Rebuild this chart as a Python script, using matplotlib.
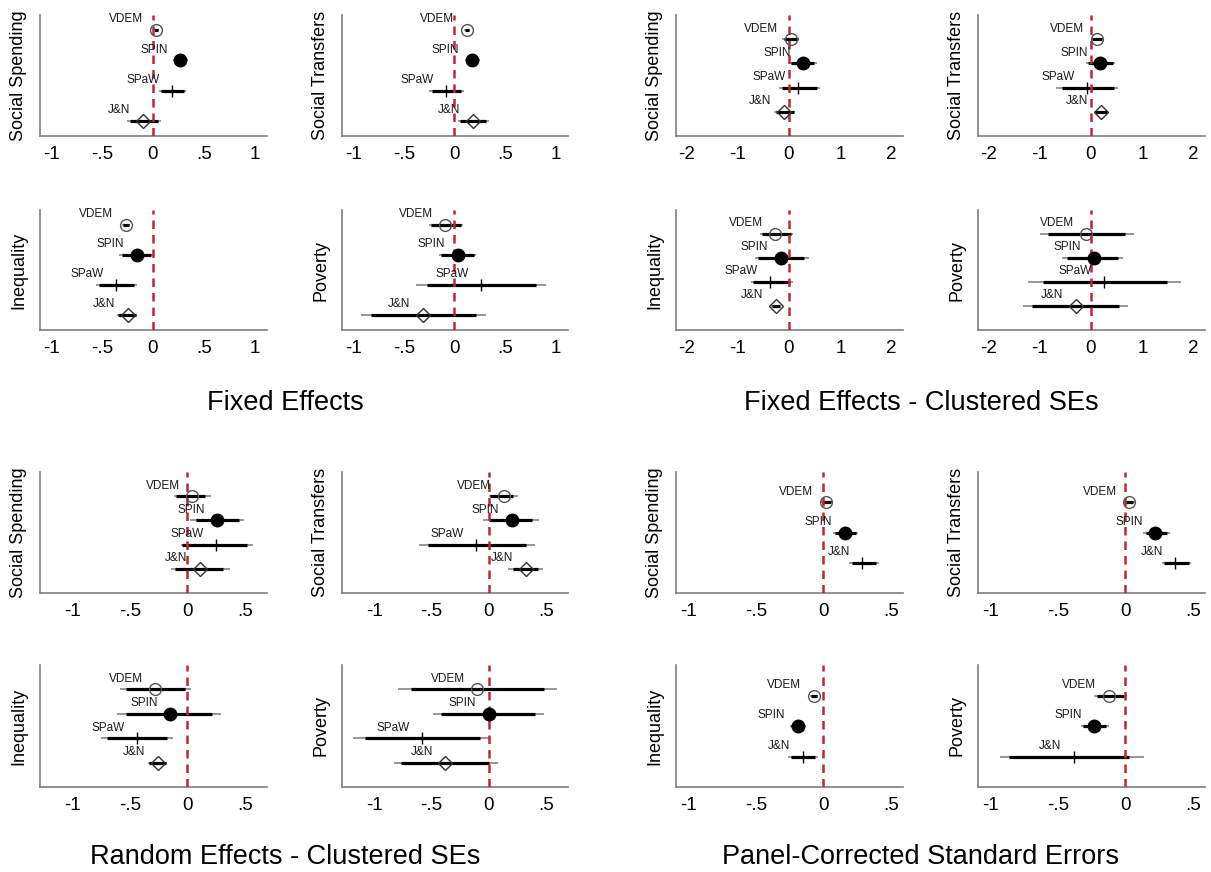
import matplotlib
matplotlib.use("Agg")
import matplotlib.pyplot as plt

plt.rcParams['font.family'] = ['Liberation Sans', 'DejaVu Sans']

W, H, DPI = 1211, 872, 100

outcomes = ["Social Spending", "Social Transfers", "Inequality", "Poverty"]
sources = ["VDEM", "SPIN", "SPaW", "J&N"]
pcse_sources = ["VDEM", "SPIN", "J&N"]

# Fixed effects (rows: outcomes, columns: sources)
fe_coef = [[0.03, 0.27, 0.19, -0.10],
           [0.12, 0.17, -0.08, 0.18],
           [-0.27, -0.16, -0.36, -0.25],
           [-0.09, 0.03, 0.26, -0.31]]
fe_lo95 = [[0.00, 0.20, 0.06, -0.26],
           [0.09, 0.10, -0.25, 0.03],
           [-0.30, -0.33, -0.56, -0.35],
           [-0.25, -0.15, -0.38, -0.92]]
fe_hi95 = [[0.06, 0.34, 0.32, 0.08],
           [0.15, 0.25, 0.09, 0.34],
           [-0.23, 0.01, -0.16, -0.16],
           [0.08, 0.21, 0.90, 0.31]]
fe_lo90 = [[0.01, 0.22, 0.08, -0.23],
           [0.10, 0.11, -0.22, 0.05],
           [-0.29, -0.30, -0.53, -0.34],
           [-0.23, -0.13, -0.27, -0.82]]
fe_hi90 = [[0.05, 0.32, 0.30, 0.05],
           [0.14, 0.23, 0.06, 0.31],
           [-0.24, -0.02, -0.19, -0.17],
           [0.06, 0.19, 0.80, 0.21]]

# Fixed effects with clustered standard errors
fec_coef = [[0.03, 0.28, 0.18, -0.10],
            [0.11, 0.18, -0.08, 0.19],
            [-0.27, -0.16, -0.36, -0.25],
            [-0.09, 0.05, 0.26, -0.30]]
fec_lo95 = [[-0.13, 0.00, -0.19, -0.30],
            [0.00, -0.10, -0.68, 0.06],
            [-0.57, -0.66, -0.74, -0.35],
            [-1.00, -0.56, -1.22, -1.32]]
fec_hi95 = [[0.20, 0.54, 0.60, 0.12],
            [0.25, 0.47, 0.53, 0.34],
            [0.07, 0.39, 0.07, -0.17],
            [0.83, 0.63, 1.76, 0.73]]
fec_lo90 = [[-0.10, 0.03, -0.13, -0.26],
            [0.02, -0.05, -0.57, 0.08],
            [-0.53, -0.60, -0.70, -0.33],
            [-0.83, -0.46, -0.93, -1.14]]
fec_hi90 = [[0.17, 0.48, 0.54, 0.09],
            [0.22, 0.42, 0.44, 0.31],
            [0.04, 0.29, 0.00, -0.18],
            [0.66, 0.52, 1.48, 0.55]]

# Random effects with clustered standard errors
rec_coef = [[0.04, 0.26, 0.25, 0.11],
            [0.13, 0.20, -0.11, 0.32],
            [-0.28, -0.15, -0.44, -0.26],
            [-0.10, 0.00, -0.58, -0.38]]
rec_lo95 = [[-0.12, 0.02, -0.06, -0.14],
            [0.00, -0.05, -0.61, 0.17],
            [-0.59, -0.61, -0.75, -0.34],
            [-0.79, -0.49, -1.18, -0.83]]
rec_hi95 = [[0.20, 0.49, 0.57, 0.37],
            [0.25, 0.44, 0.40, 0.47],
            [0.03, 0.29, -0.13, -0.18],
            [0.59, 0.48, 0.00, 0.08]]
rec_lo90 = [[-0.10, 0.07, -0.05, -0.11],
            [0.01, 0.00, -0.53, 0.21],
            [-0.53, -0.53, -0.70, -0.33],
            [-0.68, -0.42, -1.08, -0.77]]
rec_hi90 = [[0.15, 0.45, 0.52, 0.31],
            [0.21, 0.38, 0.32, 0.43],
            [-0.02, 0.21, -0.18, -0.19],
            [0.48, 0.40, -0.08, 0.00]]

# Panel-corrected standard errors (no SPaW)
pcse_coef = [[0.02, 0.16, 0.29],
             [0.03, 0.22, 0.37],
             [-0.07, -0.19, -0.15],
             [-0.12, -0.23, -0.38]]
pcse_lo95 = [[-0.02, 0.07, 0.19],
             [-0.01, 0.13, 0.27],
             [-0.10, -0.25, -0.26],
             [-0.23, -0.33, -0.93]]
pcse_hi95 = [[0.07, 0.26, 0.41],
             [0.07, 0.33, 0.49],
             [-0.04, -0.13, -0.04],
             [0.01, -0.12, 0.14]]
pcse_lo90 = [[-0.01, 0.09, 0.21],
             [0.00, 0.15, 0.29],
             [-0.09, -0.24, -0.24],
             [-0.21, -0.31, -0.86]]
pcse_hi90 = [[0.06, 0.24, 0.39],
             [0.06, 0.31, 0.47],
             [-0.05, -0.14, -0.06],
             [-0.01, -0.14, 0.03]]

ticks_wide = [-1, -0.5, 0, 0.5, 1]
ticklabels_wide = ["-1", "-.5", "0", ".5", "1"]
ticks_two = [-2, -1, 0, 1, 2]
ticklabels_two = ["-2", "-1", "0", "1", "2"]
ticks_short = [-1, -0.5, 0, 0.5]
ticklabels_short = ["-1", "-.5", "0", ".5"]

# marker style for each row position
STYLES = [
    dict(marker='o', ms=8.5, mfc='none', mec='#555555', mew=1.0),
    dict(marker='o', ms=9, mfc='black', mec='black', mew=1.0),
    dict(marker='|', ms=8.5, mfc='black', mec='black', mew=1.0),
    dict(marker='D', ms=7.5, mfc='none', mec='#333333', mew=1.0),
]

fig = plt.figure(figsize=(W / DPI, H / DPI), dpi=DPI)


def px_axes(left, top, right, bottom):
    return fig.add_axes([left / W, 1 - bottom / H, (right - left) / W, (bottom - top) / H])


def coef_panel(ax, coef, lo95, hi95, lo90, hi90, labels, xlim, ylim,
               ticks, ticklabels, ylabel):
    for i, lab in enumerate(labels):
        y = i + 1
        ax.plot([lo95[i], hi95[i]], [y, y], color='#7a7a7a', lw=1.1,
                solid_capstyle='butt', zorder=2)
        ax.plot([lo90[i], hi90[i]], [y, y], color='black', lw=2.3,
                solid_capstyle='butt', zorder=3)
        ax.plot([coef[i]], [y], ls='none', zorder=5, **STYLES[i])
        ax.annotate(lab, (coef[i], y), xytext=(-9, 5.5), textcoords='offset points',
                    ha='right', va='baseline', fontsize=8.5, color='#1a1a1a', zorder=6)
    vl = ax.axvline(0, color='#c1272d', lw=1.8, zorder=4)
    vl.set_dashes((3.4, 2.4))
    ax.set_xlim(*xlim)
    ax.set_ylim(ylim[1], ylim[0])
    ax.set_yticks([])
    ax.set_xticks(ticks)
    ax.set_xticklabels(ticklabels)
    ax.tick_params(axis='x', length=0, pad=7, labelsize=13.5)
    for s in ('top', 'right'):
        ax.spines[s].set_visible(False)
    for s in ('left', 'bottom'):
        ax.spines[s].set_color('#7f7f7f')
        ax.spines[s].set_linewidth(1.2)
    ax.set_ylabel(ylabel, fontsize=13, va='center')
    ax.yaxis.set_label_coords(-0.093, 0.5)


cols_left = [(40, 267), (342, 568)]
cols_right = [(676, 903), (978, 1205)]
rows_top = [(15, 136), (210, 330)]
rows_bottom = [(472, 593), (665, 787)]

groups = [
    (cols_left, rows_top, (fe_coef, fe_lo95, fe_hi95, fe_lo90, fe_hi90), sources,
     (-1.11, 1.12), (0.5, 4.5), ticks_wide, ticklabels_wide),
    (cols_right, rows_top, (fec_coef, fec_lo95, fec_hi95, fec_lo90, fec_hi90), sources,
     (-2.2, 2.22), (0, 5), ticks_two, ticklabels_two),
    (cols_left, rows_bottom, (rec_coef, rec_lo95, rec_hi95, rec_lo90, rec_hi90), sources,
     (-1.28, 0.69), (0, 5), ticks_short, ticklabels_short),
    (cols_right, rows_bottom, (pcse_coef, pcse_lo95, pcse_hi95, pcse_lo90, pcse_hi90),
     pcse_sources, (-1.09, 0.59), (0, 4), ticks_short, ticklabels_short),
]

for cols, rows, stats, labs, xlim, ylim, tks, tkl in groups:
    for k, outcome in enumerate(outcomes):
        r, c = divmod(k, 2)
        (l, rgt), (t, b) = cols[c], rows[r]
        ax = px_axes(l, t, rgt, b)
        coef_panel(ax, *[s[k] for s in stats], labs, xlim, ylim, tks, tkl, outcome)

titles = [("Fixed Effects", 285, 403),
          ("Fixed Effects - Clustered SEs", 921, 403),
          ("Random Effects - Clustered SEs", 285, 857),
          ("Panel-Corrected Standard Errors", 921, 857)]
for txt, x, y in titles:
    fig.text(x / W, 1 - y / H, txt, ha='center', va='center', fontsize=19.5)

fig.savefig("out.png", dpi=DPI)
